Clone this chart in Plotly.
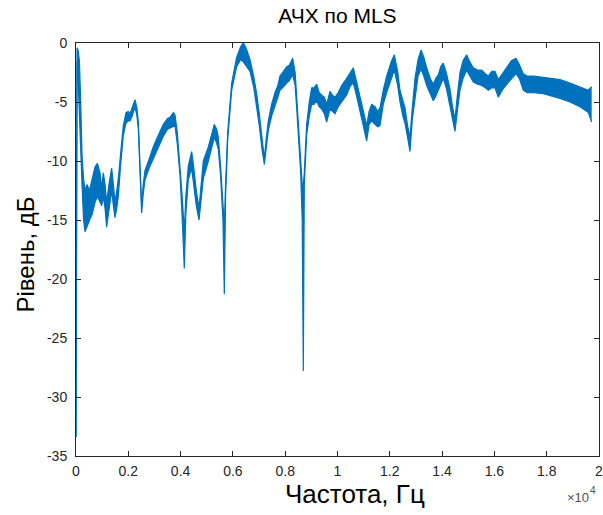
import plotly.graph_objects as go

# Frequency (Hz) and band envelope (dB)
freq = [0, 40, 80, 130, 180, 230, 290, 344, 420, 520, 620, 727, 820, 918, 982, 1045, 1110, 1172, 1260,
        1363, 1430, 1491, 1560, 1618, 1700, 1810, 1912, 2000, 2065, 2150, 2256, 2330, 2384, 2450, 2511,
        2570, 2639, 2800, 2957, 3150, 3340, 3500, 3595, 3722, 3786, 3870, 3977, 4060, 4142, 4200, 4295,
        4423, 4500, 4600, 4704, 4790, 4869, 5060, 5200, 5290, 5380, 5443, 5530, 5620, 5672, 5720, 5800,
        5953, 6144, 6300, 6399, 6500, 6654, 6800, 6910, 7010, 7101, 7203, 7280, 7355, 7480, 7610, 7720,
        7800, 7900, 8056, 8150, 8286, 8380, 8439, 8530, 8592, 8650, 8693, 8730, 8821, 8920, 9012, 9100,
        9203, 9300, 9394, 9500, 9585, 9713, 9800, 9904, 10030, 10159, 10350, 10500, 10605, 10720, 10860,
        10990, 11115, 11210, 11306, 11434, 11540, 11625, 11750, 11880, 12050, 12172, 12300, 12390, 12500,
        12581, 12680, 12772, 12860, 12964, 13080, 13193, 13300, 13409, 13550, 13664, 13760, 13855, 13950,
        14047, 14170, 14301, 14400, 14493, 14580, 14684, 14800, 14939, 15060, 15194, 15350, 15513, 15650,
        15768, 15900, 16022, 16150, 16300, 16469, 16650, 16826, 16950, 17105, 17250, 17500, 17870, 18200,
        18508, 18891, 19273, 19591, 19720]

level_upper = [-33.4, -0.4, -0.6, -1.5, -5.0, -9.5, -11.5, -12.5, -12.0, -12.5, -11.5, -10.5, -10.2, -11.0,
               -12.3, -11.0, -12.0, -13.5, -12.0, -10.6, -12.0, -13.5, -12.5, -11.5, -9.5, -7.0, -5.9, -5.8,
               -6.0, -5.5, -4.8, -5.5, -6.7, -10.5, -13.8, -12.0, -10.8, -9.8, -8.8, -7.8, -6.9, -6.4, -6.3,
               -5.9, -6.1, -7.5, -10.2, -13.0, -16.0, -13.0, -10.4, -9.2, -10.5, -12.5, -14.0, -11.5, -10.0,
               -8.8, -7.5, -6.9, -7.3, -8.0, -10.5, -14.0, -15.5, -12.0, -7.6, -3.4, -1.2, -0.3, 0.0, -0.4,
               -1.4, -2.9, -4.3, -6.0, -8.0, -9.8, -8.0, -6.6, -5.2, -4.2, -3.6, -2.8, -2.5, -2.0, -1.9,
               -1.3, -2.5, -4.7, -8.0, -10.0, -12.0, -12.0, -11.0, -6.9, -5.0, -3.8, -3.8, -3.5, -4.2, -4.4,
               -4.6, -5.2, -4.1, -4.4, -4.6, -4.2, -3.6, -3.0, -2.5, -2.1, -3.2, -4.6, -6.0, -7.0, -5.8,
               -5.2, -5.4, -5.8, -5.5, -4.0, -2.8, -1.6, -1.0, -2.4, -4.0, -5.0, -5.5, -7.0, -8.0, -5.5,
               -3.0, -1.4, -0.6, -1.2, -2.1, -3.0, -3.5, -3.0, -2.7, -2.0, -1.7, -2.6, -3.9, -5.4, -6.5,
               -4.5, -2.5, -1.5, -1.0, -1.6, -2.1, -2.3, -2.3, -2.6, -2.8, -2.4, -2.4, -3.1, -2.6, -2.0,
               -1.5, -1.3, -1.8, -2.6, -2.8, -2.8, -2.9, -3.0, -3.1, -3.4, -3.7, -4.0, -3.7]

level_lower = [-33.4, -1.5, -3.0, -5.5, -9.0, -12.0, -15.0, -16.0, -15.5, -15.0, -14.5, -13.5, -13.0, -13.5,
               -13.8, -13.0, -14.0, -15.6, -14.0, -12.5, -13.8, -14.8, -14.0, -13.0, -10.5, -7.8, -6.8, -6.6,
               -6.6, -6.2, -5.4, -6.2, -7.3, -11.5, -14.4, -12.8, -11.6, -10.6, -9.8, -8.8, -7.9, -7.3, -7.2,
               -7.0, -7.0, -8.5, -11.2, -14.8, -19.1, -14.5, -11.6, -10.6, -12.0, -13.8, -15.0, -12.8, -11.5,
               -10.0, -8.8, -8.0, -8.5, -9.0, -11.3, -15.0, -21.3, -13.0, -8.2, -4.0, -2.0, -1.4, -1.6, -1.9,
               -2.4, -3.8, -5.4, -7.0, -8.8, -10.3, -8.8, -7.4, -6.2, -5.4, -4.6, -4.0, -3.8, -3.4, -3.2,
               -2.7, -3.6, -5.5, -9.0, -11.0, -15.0, -27.8, -12.0, -7.8, -6.2, -5.2, -5.2, -4.9, -5.4, -5.6,
               -6.0, -6.7, -5.6, -5.8, -6.0, -5.4, -5.0, -4.4, -3.6, -3.4, -4.4, -5.8, -7.2, -8.3, -6.9,
               -6.6, -6.9, -7.1, -7.0, -5.2, -4.2, -3.0, -2.3, -3.6, -5.0, -6.2, -6.8, -8.0, -9.2, -6.5,
               -4.6, -2.8, -2.2, -2.8, -3.6, -4.4, -4.9, -4.5, -4.0, -3.4, -3.0, -3.9, -5.3, -6.6, -7.5,
               -5.8, -4.0, -3.0, -2.3, -2.8, -3.3, -3.5, -3.6, -3.8, -4.0, -3.8, -3.8, -4.6, -4.0, -3.5,
               -3.0, -2.6, -3.0, -4.0, -4.2, -4.2, -4.3, -4.5, -4.7, -5.0, -5.4, -5.9, -6.7]

x_tick_vals = [0, 2000, 4000, 6000, 8000, 10000, 12000, 14000, 16000, 18000, 20000]
x_tick_text = ["0", "0.2", "0.4", "0.6", "0.8", "1", "1.2", "1.4", "1.6", "1.8", "2"]
y_tick_vals = [0, -5, -10, -15, -20, -25, -30, -35]
y_tick_text = ["0", "-5", "-10", "-15", "-20", "-25", "-30", "-35"]

BLUE = "#0072BD"
AX = "#262626"
FONT = "Liberation Sans, Arial, sans-serif"

fig = go.Figure()
fig.add_trace(go.Scatter(x=freq, y=level_lower, mode="lines",
                         line=dict(color=BLUE, width=1.2), showlegend=False, hoverinfo="skip"))
fig.add_trace(go.Scatter(x=freq, y=level_upper, mode="lines", fill="tonexty", fillcolor=BLUE,
                         line=dict(color=BLUE, width=1.2), showlegend=False, hoverinfo="skip"))

axis_common = dict(showline=True, linecolor=AX, linewidth=1, mirror="ticks", ticks="inside",
                   ticklen=5, tickcolor=AX, tickwidth=1, showgrid=False, zeroline=False,
                   automargin=False, ticklabeloverflow="allow",
                   tickfont=dict(family=FONT, size=14, color=AX))

fig.update_xaxes(range=[0, 20000], tickvals=x_tick_vals, ticktext=x_tick_text,
                 ticklabelstandoff=2, **axis_common)
fig.update_yaxes(range=[-35, 0], tickvals=y_tick_vals, ticktext=y_tick_text,
                 ticklabelstandoff=5, **axis_common)

fig.update_layout(
    width=603, height=515,
    margin=dict(l=76, r=4, t=43, b=59, autoexpand=False),
    paper_bgcolor="white", plot_bgcolor="white",
    title=dict(text="АЧХ по MLS", x=0.5, xanchor="center", y=1 - 16 / 515, yanchor="middle",
               yref="container", xref="paper", font=dict(family=FONT, size=21, color="#000000")),
    annotations=[
        dict(text="Рівень, дБ", xref="paper", yref="paper", x=0, y=0.5, xanchor="center",
             yanchor="middle", xshift=-51, yshift=-5, textangle=-90, showarrow=False,
             font=dict(family=FONT, size=24, color="#000000")),
        dict(text="Частота, Гц", xref="paper", yref="paper", x=0.5, y=0, xanchor="center",
             yanchor="middle", xshift=17, yshift=-38, showarrow=False,
             font=dict(family=FONT, size=26, color="#000000")),
        dict(text="×10", xref="paper", yref="paper", x=1, y=0, xanchor="right",
             yanchor="middle", xshift=-8, yshift=-41, showarrow=False,
             font=dict(family=FONT, size=13, color="#505050")),
        dict(text="4", xref="paper", yref="paper", x=1, y=0, xanchor="right",
             yanchor="middle", xshift=-1, yshift=-34, showarrow=False,
             font=dict(family=FONT, size=10, color="#505050")),
    ],
)

fig.write_html("out.html", config={"displayModeBar": False},
               post_script="document.body.style.margin='0px';")
